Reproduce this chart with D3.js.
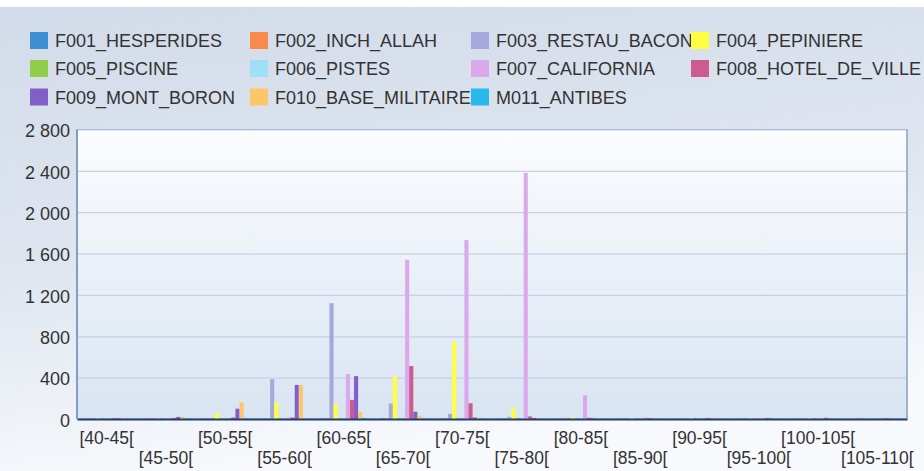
<!DOCTYPE html>
<html>
<head>
<meta charset="utf-8">
<script src="https://cdn.jsdelivr.net/npm/d3@7/dist/d3.min.js"></script>
<style>
    body { margin: 0; background: #ffffff; }
    text { font-family: "Liberation Sans", Arial, sans-serif; fill: #333333; }
</style>
</head>
<body>
<div id="chart"></div>
<script>

// Age classes (x axis)
const categories = ["[40-45[", "[45-50[", "[50-55[", "[55-60[", "[60-65[", "[65-70[", "[70-75[",
                    "[75-80[", "[80-85[", "[85-90[", "[90-95[", "[95-100[", "[100-105[", "[105-110["];

// Series names and colours
const seriesNames = ["F001_HESPERIDES", "F002_INCH_ALLAH", "F003_RESTAU_BACON", "F004_PEPINIERE",
                     "F005_PISCINE", "F006_PISTES", "F007_CALIFORNIA", "F008_HOTEL_DE_VILLE",
                     "F009_MONT_BORON", "F010_BASE_MILITAIRE", "M011_ANTIBES"];
const seriesColors = ["#3d8fd6", "#f98a4c", "#a5a8dc", "#ffff40", "#8fce4a", "#9fe0f7",
                      "#dba8ec", "#cc5b8f", "#8060c8", "#fdc66a", "#27b8ec"];

// Values per series, one per age class
const F001 = [2, 2, 3, 2, 3, 5, 3, 2, 2, 2, 2, 2, 2, 2];
const F002 = [4, 3, 3, 3, 5, 5, 3, 3, 3, 3, 3, 3, 3, 8];
const F003 = [3, 6, 8, 385, 1120, 150, 50, 20, 10, 5, 3, 3, 3, 3];
const F004 = [5, 5, 58, 160, 145, 415, 745, 103, 15, 10, 8, 5, 10, 3];
const F005 = [8, 8, 5, 5, 5, 5, 5, 5, 5, 3, 10, 8, 5, 3];
const F006 = [3, 3, 3, 3, 5, 5, 5, 3, 3, 3, 3, 3, 3, 3];
const F007 = [5, 8, 10, 15, 435, 1540, 1730, 2380, 230, 15, 10, 8, 5, 8];
const F008 = [8, 10, 15, 15, 185, 512, 152, 25, 12, 8, 10, 10, 12, 5];
const F009 = [5, 20, 100, 330, 415, 70, 15, 10, 5, 3, 3, 3, 3, 3];
const F010 = [5, 22, 162, 328, 70, 30, 15, 8, 5, 3, 3, 3, 3, 3];
const M011 = [3, 3, 3, 3, 8, 5, 5, 3, 3, 3, 3, 3, 3, 3];
const seriesValues = [F001, F002, F003, F004, F005, F006, F007, F008, F009, F010, M011];

// Y axis ticks
const yTicks = [0, 400, 800, 1200, 1600, 2000, 2400, 2800];

// Dimensions
const W = 924, H = 471;
const plot = { left: 77, right: 907, top: 129.5, bottom: 419 };

const svg = d3.select("#chart").append("svg")
    .attr("width", W)
    .attr("height", H);

// Gradients
const defs = svg.append("defs");
const bgGrad = defs.append("linearGradient").attr("id", "bgGrad")
    .attr("x1", 0).attr("y1", 0).attr("x2", 0.25).attr("y2", 1);
bgGrad.append("stop").attr("offset", "0%").attr("stop-color", "#d2dbe9");
bgGrad.append("stop").attr("offset", "55%").attr("stop-color", "#dfe6f0");
bgGrad.append("stop").attr("offset", "100%").attr("stop-color", "#f7f9fc");

const plotGrad = defs.append("linearGradient").attr("id", "plotGrad")
    .attr("x1", 0).attr("y1", 0).attr("x2", 0).attr("y2", 1);
plotGrad.append("stop").attr("offset", "0%").attr("stop-color", "#fbfcfe");
plotGrad.append("stop").attr("offset", "100%").attr("stop-color", "#d9e4f2");

// Background
svg.append("rect")
    .attr("x", 0).attr("y", 7)
    .attr("width", W).attr("height", H - 7)
    .attr("fill", "url(#bgGrad)");

/*
    Legend
*/
const legendCols = [30, 250, 471, 691];
const legendRows = [40.5, 68.5, 97];
const legend = svg.append("g");
seriesNames.forEach(function (name, i) {
    const cx = legendCols[i % 4];
    const cy = legendRows[Math.floor(i / 4)];
    legend.append("rect")
        .attr("x", cx).attr("y", cy - 8.5)
        .attr("width", 18).attr("height", 17)
        .attr("fill", seriesColors[i]);
    legend.append("text")
        .attr("x", cx + 25).attr("y", cy + 6.5)
        .style("font-size", "18px")
        .text(name);
});

/*
    Scales
*/
const x0 = d3.scaleBand()
    .domain(categories)
    .range([plot.left, plot.right])
    .paddingInner(0.24)
    .paddingOuter(0.12);

const x1 = d3.scaleBand()
    .domain(d3.range(seriesNames.length))
    .range([0, x0.bandwidth()])
    .padding(0);

const y = d3.scaleLinear()
    .domain([0, 2800])
    .range([plot.bottom, plot.top]);

const fmt = d3.formatLocale({ decimal: ",", thousands: "\u00a0", grouping: [3], currency: ["", ""] }).format(",d");

// Plot area
svg.append("rect")
    .attr("x", plot.left).attr("y", plot.top)
    .attr("width", plot.right - plot.left).attr("height", plot.bottom - plot.top)
    .attr("fill", "url(#plotGrad)")
    .attr("stroke", "#8fa9c9")
    .attr("stroke-width", 1);

// Grid lines
svg.append("g")
    .attr("class", "grid")
    .attr("transform", "translate(" + plot.left + ",0)")
    .call(d3.axisLeft(y).tickValues(yTicks).tickSize(-(plot.right - plot.left)).tickFormat(""))
    .call(g => g.select(".domain").remove())
    .call(g => g.selectAll("line").attr("stroke", "#c4d2e3").attr("stroke-width", 1.2));

// Y axis labels
svg.append("g")
    .attr("transform", "translate(" + plot.left + ",0)")
    .call(d3.axisLeft(y).tickValues(yTicks).tickSize(0).tickPadding(7).tickFormat(fmt))
    .call(g => g.select(".domain").remove())
    .call(g => g.selectAll("text")
        .attr("fill", "#333333")
        .attr("dy", "0.4em")
        .style("font-size", "18px")
        .style("font-family", "'Liberation Sans', Arial, sans-serif"));

/*
    Bars
*/
const groups = svg.append("g")
    .selectAll("g")
    .data(categories)
    .enter()
    .append("g")
    .attr("transform", (c) => "translate(" + x0(c) + ",0)");

groups.selectAll("rect")
    .data((c, ci) => seriesValues.map((vals, si) => ({ s: si, v: vals[ci] })))
    .enter()
    .append("rect")
    .attr("x", (d) => x1(d.s))
    .attr("y", (d) => y(d.v))
    .attr("width", x1.bandwidth())
    .attr("height", (d) => plot.bottom - y(d.v))
    .attr("fill", (d) => seriesColors[d.s]);

// X axis (staggered labels)
svg.append("g")
    .attr("transform", "translate(0," + plot.bottom + ")")
    .call(d3.axisBottom(x0).tickSize(0).tickPadding(0))
    .call(g => g.select(".domain")
        .attr("stroke", "#24406a")
        .attr("stroke-width", 2))
    .call(g => g.selectAll("text")
        .attr("fill", "#333333")
        .attr("dy", 0)
        .attr("y", (d, i) => i % 2 === 0 ? 25 : 45)
        .style("font-size", "17.5px")
        .style("font-family", "'Liberation Sans', Arial, sans-serif"));

// Left and right plot borders
svg.append("line")
    .attr("x1", plot.left).attr("x2", plot.left)
    .attr("y1", plot.top).attr("y2", plot.bottom)
    .attr("stroke", "#6f8fb8").attr("stroke-width", 1.5);
svg.append("line")
    .attr("x1", plot.right).attr("x2", plot.right)
    .attr("y1", plot.top).attr("y2", plot.bottom)
    .attr("stroke", "#7e9cc2").attr("stroke-width", 1);

</script>
</body>
</html>
